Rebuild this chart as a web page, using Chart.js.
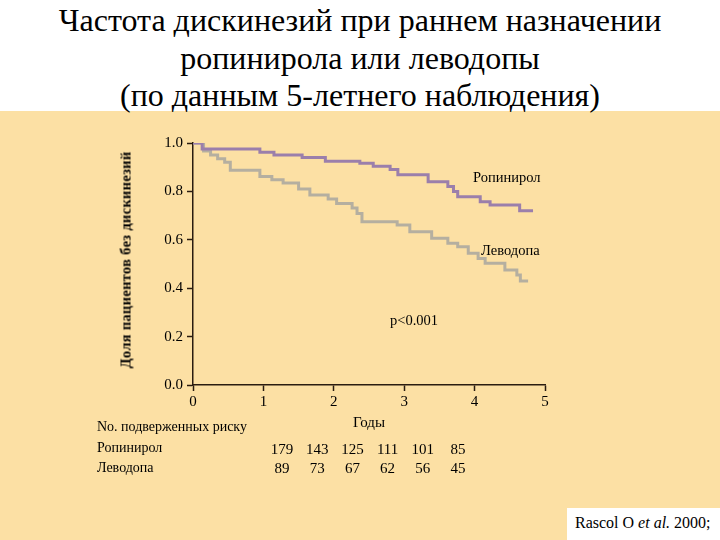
<!DOCTYPE html>
<html>
<head>
<meta charset="utf-8">
<script src="https://cdn.jsdelivr.net/npm/chart.js@4/dist/chart.umd.min.js"></script>
<style>
  html, body { margin: 0; padding: 0; background: #ffffff; }
  #page { position: relative; width: 720px; height: 540px; overflow: hidden; background: #ffffff;
          font-family: "Liberation Serif", "Times New Roman", serif; color: #000; }
  #beige { position: absolute; left: 0; top: 111px; width: 720px; height: 429px; background: #FCE0A4; }
  #title { position: absolute; left: 0; top: 2px; width: 720px; text-align: center; font-size: 32px; line-height: 37.5px;
           font-family: "Liberation Serif", "Times New Roman", serif; }
  #chartWrap { position: absolute; left: 0; top: 0; width: 720px; height: 540px; }
  .t { position: absolute; white-space: nowrap; font-family: "Liberation Serif", "Times New Roman", serif; }
  #ylab { position: absolute; left: 126px; top: 260px; transform: translate(-50%, -50%) rotate(-90deg);
          font-weight: bold; font-size: 14.5px; white-space: nowrap; letter-spacing: 0.3px;
          font-family: "Liberation Serif", "Times New Roman", serif; }
  #cite { position: absolute; left: 567px; top: 508px; width: 153px; height: 32px; background: #fff;
          font-size: 16px; line-height: 30px; padding-left: 8px; box-sizing: border-box;
          font-family: "Liberation Serif", "Times New Roman", serif; }
</style>
</head>
<body>
<div id="page">
  <div id="beige"></div>
  <div id="title"></div>
  <div id="chartWrap"><canvas id="c" width="720" height="540"></canvas></div>
  <div id="ylab"></div>
  <div id="cite">Rascol O <i>et al.</i> 2000;</div>
  <div id="labels"></div>
</div>
<script>
// ---- Data ----
const titleLines = ["Частота дискинезий при раннем назначении", "ропинирола или леводопы", "(по данным 5-летнего наблюдения)"];
const yAxisTitle = "Доля  пациентов без дискинезий";
const xAxisTitle = "Годы";
const seriesNames = ["Ропинирол", "Леводопа"];
const pValueText = "p<0.001";

// Kaplan–Meier steps (time in years, survival fraction after the step)
const ropinirolTimes = [0, 0.13, 0.95, 1.15, 1.55, 1.88, 2.37, 2.56, 2.80, 2.91, 3.34, 3.62, 3.70, 3.76, 4.08, 4.22, 4.64, 4.83];
const ropinirolSurv  = [1.0, 0.975, 0.962, 0.950, 0.940, 0.925, 0.916, 0.904, 0.890, 0.869, 0.840, 0.820, 0.800, 0.778, 0.757, 0.744, 0.720, 0.720];
const levodopaTimes  = [0, 0.15, 0.25, 0.35, 0.45, 0.53, 0.95, 1.12, 1.28, 1.50, 1.66, 1.92, 2.04, 2.26, 2.33, 2.40, 2.90, 3.08, 3.39, 3.62, 3.76, 3.91, 4.05, 4.15, 4.43, 4.60, 4.65, 4.76];
const levodopaSurv   = [1.0, 0.967, 0.950, 0.935, 0.920, 0.887, 0.862, 0.848, 0.835, 0.810, 0.785, 0.769, 0.750, 0.731, 0.709, 0.675, 0.661, 0.633, 0.606, 0.586, 0.571, 0.544, 0.523, 0.503, 0.475, 0.455, 0.430, 0.430];

const xTickValues = [0, 1, 2, 3, 4, 5];
const yTickValues = [0.0, 0.2, 0.4, 0.6, 0.8, 1.0];

const riskHeader = "No. подверженных риску";
const riskRopinirol = [179, 143, 125, 111, 101, 85];
const riskLevodopa  = [89, 73, 67, 62, 56, 45];

// ---- Static text ----
document.getElementById('title').innerHTML = titleLines.join('<br>');
document.getElementById('ylab').textContent = yAxisTitle;

function addText(txt, x, y, opts) {
  const d = document.createElement('div');
  d.className = 't';
  d.textContent = txt;
  d.style.left = x + 'px';
  d.style.top = y + 'px';
  d.style.fontSize = (opts && opts.size ? opts.size : 14) + 'px';
  if (opts && opts.center) d.style.transform = 'translate(-50%, -50%)';
  else d.style.transform = 'translateY(-50%)';
  document.getElementById('labels').appendChild(d);
}

addText(xAxisTitle, 369, 422, {center: true, size: 15});
addText(riskHeader, 97, 427, {size: 14});
addText(seriesNames[0], 97, 448, {size: 14});
addText(seriesNames[1], 97, 468, {size: 14});
riskRopinirol.forEach((v, i) => addText(String(v), 282 + i * 35.2, 449, {center: true, size: 15}));
riskLevodopa.forEach((v, i) => addText(String(v), 282 + i * 35.2, 468, {center: true, size: 15}));
addText(seriesNames[0], 473, 177, {size: 14.5});
addText(seriesNames[1], 481, 250, {size: 14.5});
addText(pValueText, 390, 320, {size: 14.5});

// ---- Chart ----
const axisColor = '#2a1c10';
const serif = '"Liberation Serif", "Times New Roman", serif';
const toXY = (ts, vs) => ts.map((t, i) => ({x: t, y: vs[i]}));

new Chart(document.getElementById('c'), {
  type: 'line',
  data: {
    datasets: [
      { label: seriesNames[0], data: toXY(ropinirolTimes, ropinirolSurv), borderColor: '#9B7FAB',
        borderWidth: 3, stepped: true, pointRadius: 0, fill: false },
      { label: seriesNames[1], data: toXY(levodopaTimes, levodopaSurv), borderColor: '#B5AFA0',
        borderWidth: 3, stepped: true, pointRadius: 0, fill: false }
    ]
  },
  options: {
    responsive: false,
    animation: false,
    layout: { padding: { left: 143, right: 175, top: 143, bottom: 115 } },
    plugins: { legend: { display: false }, tooltip: { enabled: false } },
    scales: {
      x: {
        type: 'linear', min: 0, max: 5,
        afterBuildTicks: s => { s.ticks = xTickValues.map(v => ({value: v})); },
        afterFit: s => { s.height = 40; },
        grid: { display: true, drawOnChartArea: false, drawTicks: true, tickLength: 6, tickWidth: 1.5, color: axisColor },
        border: { display: true, color: axisColor, width: 1.5 },
        ticks: { color: '#000', padding: 2, font: { family: serif, size: 15 } }
      },
      y: {
        type: 'linear', min: 0, max: 1,
        afterBuildTicks: s => { s.ticks = yTickValues.map(v => ({value: v})); },
        afterFit: s => { s.width = 50; },
        grid: { display: true, drawOnChartArea: false, drawTicks: true, tickLength: 6, tickWidth: 1.5, color: axisColor },
        border: { display: true, color: axisColor, width: 1.5 },
        ticks: { color: '#000', padding: 4, callback: v => Number(v).toFixed(1), font: { family: serif, size: 15 } }
      }
    }
  }
});
</script>
</body>
</html>
